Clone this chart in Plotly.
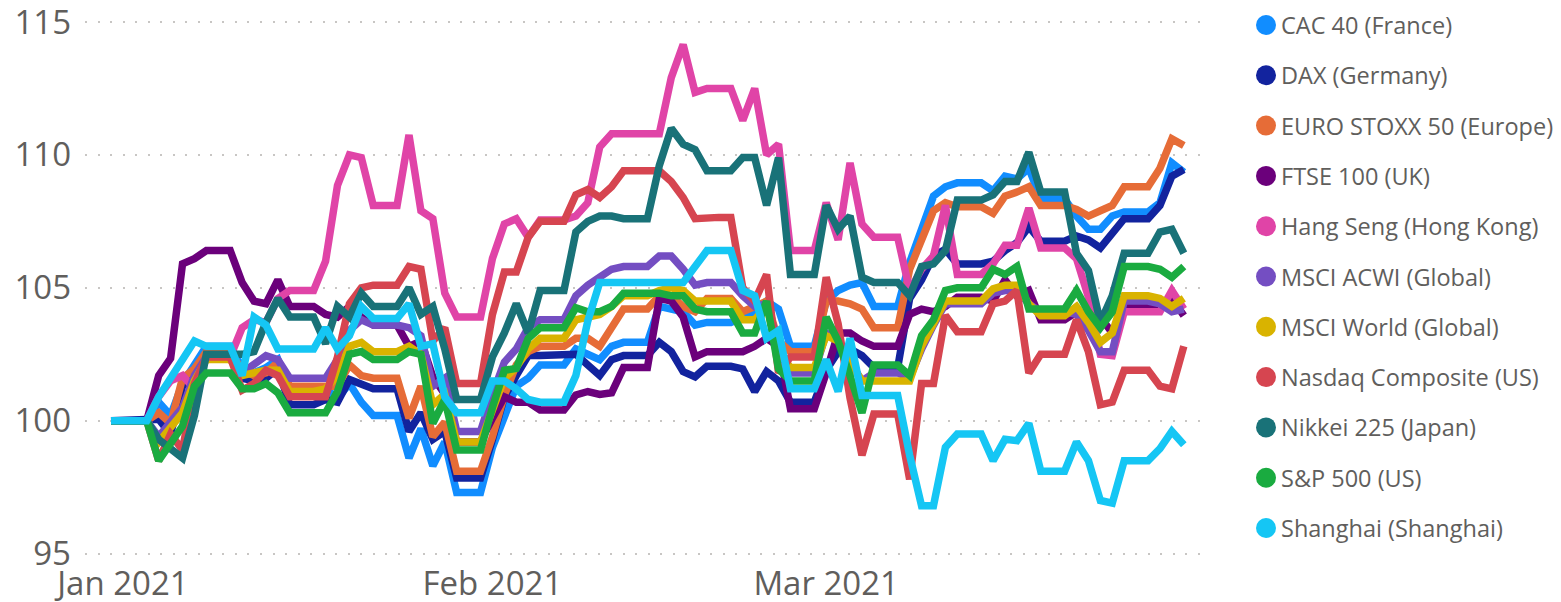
import pandas as pd
import plotly.graph_objects as go

dates = pd.date_range("2020-12-31", "2021-03-31", freq="D")

series_names = [
    "CAC 40 (France)", "DAX (Germany)", "EURO STOXX 50 (Europe)", "FTSE 100 (UK)",
    "Hang Seng (Hong Kong)", "MSCI ACWI (Global)", "MSCI World (Global)",
    "Nasdaq Composite (US)", "Nikkei 225 (Japan)", "S&P 500 (US)", "Shanghai (Shanghai)",
]
series_colors = ["#118DFF", "#12239E", "#E66C37", "#6B007B", "#E044A7", "#744EC2",
                 "#D9B300", "#D64550", "#197278", "#1AAB40", "#15C6F4"]

cac40 = [100, 100, 100, 100, 100.7, 100.2, 101.4, 102.1, 102.8, 102.8, 102.8,
         102.0, 101.8, 102.0, 102.3, 101.1, 101.1, 101.1, 101.2, 100.85, 101.4, 100.7,
         100.2, 100.2, 100.2, 98.6, 99.7, 98.3, 99.2, 97.3, 97.3, 97.3, 99.0, 100.2,
         101.3, 101.6, 102.1, 102.1, 102.1, 102.7, 102.5, 102.3, 102.8, 102.95, 102.95,
         102.95, 104.3, 104.2, 104.1, 103.6, 103.7, 103.7, 103.7, 103.9, 104.1, 104.5,
         104.2, 102.8, 102.8, 102.8, 104.5, 104.9, 105.1, 105.2, 104.3, 104.3, 104.3,
         105.95, 107.2, 108.45, 108.8, 108.95, 108.95, 108.95, 108.65, 109.2, 109.1,
         109.5, 108.35, 108.35, 108.35, 107.7, 107.2, 107.2, 107.7, 107.85, 107.85,
         107.85, 108.2, 109.7, 109.35]
dax = [100, 100, 100, 100, 100.06, 99.5, 101.3, 101.8, 102.4, 102.4, 102.4,
       101.6, 101.5, 101.6, 101.97, 100.6, 100.6, 100.6, 100.8, 100.7, 101.55, 101.4,
       101.2, 101.2, 101.2, 99.6, 100.3, 99.3, 99.6, 97.85, 97.85, 97.85, 99.3, 100.9,
       101.7, 102.45, 102.45, 102.45, 102.45, 102.5, 102.1, 101.7, 102.3, 102.45, 102.45,
       102.45, 102.95, 102.6, 101.85, 101.65, 102.05, 102.05, 102.05, 101.95, 101.1,
       101.85, 101.5, 100.7, 100.7, 100.7, 101.9, 102.6, 102.7, 102.45, 102.0, 102.0,
       102.0, 104.6, 105.3, 106.2, 106.45, 105.9, 105.9, 105.9, 106.0, 106.4, 106.7,
       107.3, 106.75, 106.75, 106.75, 106.95, 106.8, 106.5, 107.1, 107.6, 107.6, 107.6,
       108.1, 109.2, 109.45]
euro_stoxx50 = [100, 100, 100, 100, 100.3, 99.9, 101.6, 101.95, 102.6, 102.6, 102.6,
                101.9, 101.7, 101.8, 102.2, 101.3, 101.3, 101.3, 101.3, 101.3, 102.1, 101.7,
                101.6, 101.6, 101.6, 100.1, 101.3, 99.4, 99.95, 98.1, 98.1, 98.1, 99.4,
                100.95, 102.1, 102.6, 102.8, 102.8, 102.8, 103.1, 103.1, 102.8, 103.5, 104.2,
                104.2, 104.2, 104.7, 104.7, 104.3, 104.1, 104.6, 104.6, 104.6, 104.1, 104.3,
                104.5, 103.0, 102.6, 102.6, 102.6, 104.5, 104.5, 104.4, 104.2, 103.5,
                103.5, 103.5, 105.7, 106.85, 107.9, 108.2, 108.05, 108.05, 108.05, 107.8,
                108.45, 108.6, 108.8, 108.1, 108.1, 108.1, 107.95, 107.7, 107.9, 108.1,
                108.8, 108.8, 108.8, 109.5, 110.6, 110.35]
ftse100 = [100, 100, 100, 100, 101.7, 102.35, 105.9, 106.1, 106.4, 106.4, 106.4,
           105.2, 104.5, 104.4, 105.3, 104.3, 104.3, 104.3, 104.0, 103.9, 104.3, 103.9,
           103.6, 103.6, 103.6, 102.8, 103.0, 101.65, 101.0, 99.2, 99.2, 99.2, 100.1,
           100.9, 100.7, 100.7, 100.4, 100.4, 100.4, 100.97, 101.1, 100.99, 101.05, 102.0,
           102.0, 102.0, 104.6, 104.5, 103.9, 102.4, 102.6, 102.6, 102.6, 102.6, 102.8,
           103.1, 102.8, 100.45, 100.45, 100.45, 101.8, 103.3, 103.3, 103.0, 102.8, 102.8,
           102.8, 104.0, 104.2, 104.1, 104.3, 104.65, 104.65, 104.65, 104.5, 105.3, 104.7,
           104.9, 103.8, 103.8, 103.8, 104.1, 103.7, 103.9, 103.3, 104.3, 104.3, 104.3,
           104.3, 104.6, 103.95]
hang_seng = [100, 100, 100, 100, 100.9, 101.5, 101.7, 101.2, 102.4, 102.4, 102.4,
             103.5, 103.8, 103.7, 104.6, 104.9, 104.9, 104.9, 106.0, 108.85, 110.0, 109.9,
             108.1, 108.1, 108.1, 110.75, 107.9, 107.6, 104.8, 103.9, 103.9, 103.9, 106.1,
             107.4, 107.6, 106.9, 107.55, 107.55, 107.55, 107.7, 108.2, 110.3, 110.8, 110.8,
             110.8, 110.8, 110.8, 112.9, 114.15, 112.35, 112.5, 112.5, 112.5, 111.3, 112.5,
             110.0, 110.4, 106.4, 106.4, 106.4, 108.2, 106.8, 109.7, 107.4, 106.9, 106.9,
             106.9, 104.9, 105.7, 106.2, 108.1, 105.5, 105.5, 105.5, 105.9, 106.6, 106.6,
             108.0, 106.5, 106.5, 106.5, 106.1, 104.65, 102.5, 102.45, 104.1, 104.1, 104.1,
             104.1, 104.9, 104.2]
msci_acwi = [100, 100, 100, 100, 99.4, 100.0, 100.5, 101.7, 102.4, 102.4, 102.4,
             101.8, 102.1, 102.45, 102.3, 101.6, 101.6, 101.6, 101.6, 102.3, 103.4, 103.8,
             103.6, 103.6, 103.6, 103.5, 103.2, 101.3, 101.6, 99.6, 99.6, 99.6, 101.0,
             102.2, 102.7, 103.5, 103.8, 103.8, 103.8, 104.7, 105.1, 105.4, 105.7, 105.8,
             105.8, 105.8, 106.2, 106.2, 105.7, 105.1, 105.2, 105.2, 105.2, 104.7, 104.3,
             104.4, 102.9, 101.8, 101.8, 101.8, 103.3, 103.0, 102.2, 101.5, 101.8, 101.8,
             101.8, 101.6, 102.7, 103.6, 104.4, 104.4, 104.4, 104.4, 104.8, 104.9, 104.9,
             104.4, 104.1, 104.1, 104.1, 104.0, 103.4, 102.6, 102.6, 104.5, 104.5, 104.5,
             104.4, 104.1, 104.2]
msci_world = [100, 100, 100, 100, 99.2, 99.7, 100.3, 101.5, 102.3, 102.3, 102.3,
              101.7, 101.8, 101.9, 101.9, 101.1, 101.1, 101.1, 101.2, 101.7, 102.8, 102.95,
              102.6, 102.6, 102.6, 102.8, 102.5, 100.6, 101.0, 99.2, 99.2, 99.2, 100.4,
              101.6, 102.0, 102.7, 103.1, 103.1, 103.1, 103.8, 103.9, 104.0, 104.3, 104.7,
              104.7, 104.7, 104.9, 105.0, 104.9, 104.5, 104.5, 104.5, 104.5, 103.8, 103.8,
              104.3, 102.6, 102.0, 102.0, 102.0, 103.2, 103.0, 102.2, 101.5, 101.5, 101.5,
              101.5, 101.5, 102.8, 103.7, 104.5, 104.5, 104.5, 104.5, 104.96, 105.1, 105.1,
              104.4, 103.95, 103.95, 103.95, 104.3, 103.7, 102.95, 103.3, 104.7, 104.7,
              104.7, 104.6, 104.3, 104.6]
nasdaq = [100, 100, 100, 100, 98.5, 99.5, 98.9, 101.4, 102.4, 102.4, 102.4,
          101.15, 101.4, 101.9, 101.7, 100.9, 100.9, 100.9, 100.9, 102.4, 104.4, 105.0,
          105.1, 105.1, 105.1, 105.8, 105.7, 103.0, 103.5, 101.4, 101.4, 101.4, 104.0,
          105.6, 105.6, 106.9, 107.5, 107.5, 107.5, 108.5, 108.7, 108.4, 108.8, 109.4,
          109.4, 109.4, 109.4, 109.0, 108.4, 107.6, 107.65, 107.65, 107.65, 105.0, 104.5,
          105.5, 101.8, 102.4, 102.4, 102.4, 105.4, 103.65, 100.85, 98.7, 100.25, 100.25,
          100.25, 97.8, 101.4, 101.4, 103.96, 103.35, 103.35, 103.35, 104.4, 104.5, 104.9,
          101.8, 102.5, 102.5, 102.5, 103.8, 102.6, 100.6, 100.7, 101.9, 101.9, 101.9,
          101.3, 101.2, 102.8]
nikkei225 = [100, 100, 100, 100, 99.3, 98.96, 98.6, 100.2, 102.5, 102.5, 102.5,
             102.5, 102.6, 103.7, 104.6, 103.9, 103.9, 103.9, 102.9, 104.3, 103.9, 104.8,
             104.3, 104.3, 104.3, 105.0, 104.0, 104.3, 102.7, 100.8, 100.8, 100.8, 102.4,
             103.3, 104.4, 103.3, 104.9, 104.9, 104.9, 107.1, 107.5, 107.7, 107.7, 107.6,
             107.6, 107.6, 109.6, 111.0, 110.4, 110.2, 109.4, 109.4, 109.4, 109.9, 109.9,
             108.1, 109.9, 105.5, 105.5, 105.5, 108.1, 107.2, 107.7, 105.4, 105.2, 105.2,
             105.2, 104.7, 105.8, 105.9, 106.4, 108.3, 108.3, 108.3, 108.5, 109.0, 109.0,
             110.1, 108.6, 108.6, 108.6, 106.3, 105.65, 103.7, 104.7, 106.3, 106.3, 106.3,
             107.1, 107.2, 106.3]
sp500 = [100, 100, 100, 100, 98.5, 99.2, 99.8, 101.3, 101.8, 101.8, 101.8,
         101.2, 101.2, 101.4, 101.05, 100.3, 100.3, 100.3, 100.3, 101.1, 102.5, 102.6,
         102.3, 102.3, 102.3, 102.6, 102.5, 99.9, 100.8, 98.9, 98.9, 98.9, 100.5,
         101.9, 101.97, 103.1, 103.5, 103.5, 103.5, 104.25, 104.1, 104.1, 104.3, 104.8,
         104.8, 104.8, 104.8, 104.7, 104.7, 104.2, 104.1, 104.1, 104.1, 103.3, 103.3,
         104.5, 101.95, 101.5, 101.5, 101.5, 103.9, 103.0, 101.7, 100.3, 102.1, 102.1,
         102.1, 101.7, 103.2, 103.8, 104.9, 105.0, 105.0, 105.0, 105.7, 105.5, 105.8,
         104.2, 104.2, 104.2, 104.2, 104.9, 104.1, 103.5, 104.1, 105.8, 105.8, 105.8,
         105.7, 105.4, 105.8]
shanghai = [100, 100, 100, 100, 100.9, 101.6, 102.2, 103.0, 102.8, 102.8, 102.8,
            101.7, 103.9, 103.6, 102.7, 102.7, 102.7, 102.7, 103.5, 102.7, 103.2, 104.3,
            103.85, 103.85, 103.85, 104.4, 102.8, 102.9, 100.9, 100.3, 100.3, 100.3, 101.5,
            101.5, 101.2, 100.8, 100.7, 100.7, 100.7, 101.7, 103.75, 105.2, 105.2, 105.2,
            105.2, 105.2, 105.2, 105.2, 105.2, 105.8, 106.4, 106.4, 106.4, 104.9, 104.7,
            103.1, 103.4, 101.2, 101.2, 101.2, 102.3, 101.1, 103.1, 100.95, 100.95, 100.95,
            100.95, 98.7, 96.8, 96.8, 99.0, 99.5, 99.5, 99.5, 98.5, 99.3, 99.25, 99.9, 98.1,
            98.1, 98.1, 99.2, 98.5, 97.0, 96.9, 98.5, 98.5, 98.5, 98.95, 99.6, 99.1]

series_values = [cac40, dax, euro_stoxx50, ftse100, hang_seng, msci_acwi, msci_world,
                 nasdaq, nikkei225, sp500, shanghai]

y_ticks = [95, 100, 105, 110, 115]
x_tick_dates = ["2021-01-01", "2021-02-01", "2021-03-01"]
x_tick_labels = ["Jan 2021", "Feb 2021", "Mar 2021"]

FONT = "Segoe UI, Open Sans, sans-serif"
GREY = "#605E5C"

fig = go.Figure()
for name, vals, col in zip(series_names, series_values, series_colors):
    fig.add_trace(go.Scatter(x=dates, y=vals, name=name, mode="lines",
                             line=dict(color=col, width=7.5), showlegend=False))

# The page body adds an 8px margin, so the figure is laid out 8px smaller
OFF = 8
W, H = 1561 - OFF, 602 - OFF
L, T = 85 - OFF, 14 - OFF
R = W - (1200 - OFF)
B = H - (559 - OFF)
pw, ph = W - L - R, H - T - B

def px_x(px):
    return (px - OFF - L) / pw

def px_y(py):
    return (H - B - (py - OFF)) / ph

shapes, annotations = [], []
for k, (name, col) in enumerate(zip(series_names, series_colors)):
    cy = 25 + 50.3 * k
    shapes.append(dict(type="circle", xref="paper", yref="paper",
                       xsizemode="pixel", ysizemode="pixel",
                       xanchor=px_x(1266), yanchor=px_y(cy),
                       x0=-10, x1=10, y0=-10, y1=10,
                       fillcolor=col, line=dict(width=0)))
    annotations.append(dict(xref="paper", yref="paper", x=px_x(1279), y=px_y(cy),
                            xanchor="left", yanchor="middle", showarrow=False,
                            text=name, font=dict(family=FONT, size=23.5, color=GREY)))

fig.update_layout(
    width=W, height=H,
    margin=dict(l=L, r=R, t=T, b=B, autoexpand=False),
    paper_bgcolor="white", plot_bgcolor="white",
    shapes=shapes, annotations=annotations,
    xaxis=dict(type="date", range=["2020-12-28 19:39", "2021-04-01 08:37"],
               tickvals=x_tick_dates, ticktext=x_tick_labels, showgrid=False,
               zeroline=False, showline=False, ticks="", automargin=False,
               ticklabelstandoff=2,
               tickfont=dict(family=FONT, size=33, color=GREY)),
    yaxis=dict(range=[94.8, 115.3], tickvals=y_ticks, showgrid=True,
               gridcolor="#C8C6C4", gridwidth=2, griddash="2px,10.5px",
               zeroline=False, showline=False, ticks="", ticklabelstandoff=13,
               automargin=False, ticklabeloverflow="allow",
               tickfont=dict(family=FONT, size=33, color=GREY)),
    hovermode=False,
)

fig.write_html("out.html")
